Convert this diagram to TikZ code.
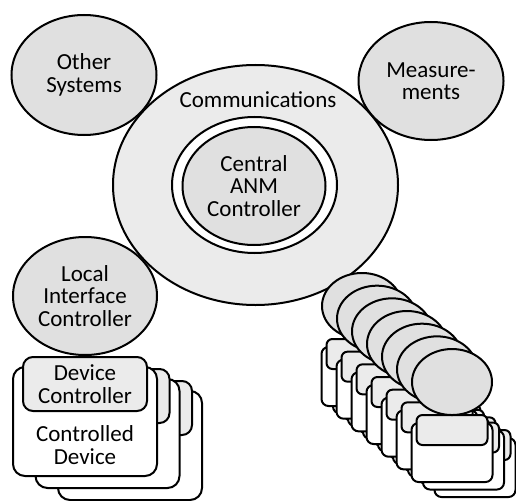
\documentclass[tikz,border=0pt]{standalone}
\usepackage{fontspec}
\setmainfont{Carlito}
\usetikzlibrary{shapes.geometric}
\definecolor{bubblegray}{gray}{0.88}
\definecolor{commgray}{gray}{0.92}
\definecolor{dcgray}{gray}{0.92}
\begin{document}
\begin{tikzpicture}[x=1pt,y=-1pt,
  outline/.style={draw=black, line width=2pt},
  txt/.style={inner sep=0pt, align=center, font=\fontsize{23}{22.5}\selectfont},
  bubble/.style={outline, ellipse, fill=bubblegray, inner sep=0pt, txt},
  bigbox/.style={outline, rectangle, rounded corners=12pt, fill=white, minimum width=144pt, minimum height=109pt, inner sep=0pt},
  bigdc/.style={outline, rectangle, rounded corners=10pt, fill=dcgray, minimum width=124pt, minimum height=54pt, inner sep=0pt},
  smallbox/.style={outline, rectangle, rounded corners=7pt, fill=white, minimum width=81pt, minimum height=59pt, inner sep=0pt},
  smalldc/.style={outline, rectangle, rounded corners=6pt, fill=dcgray, minimum width=71pt, minimum height=30pt, inner sep=0pt},
  smallbubble/.style={outline, ellipse, fill=bubblegray, inner sep=0pt, minimum width=80pt, minimum height=66pt}
]
\useasboundingbox (0,0) rectangle (516,500);

% communications
\node[outline, ellipse, fill=commgray, minimum width=285pt, minimum height=240pt] (comm) at (255.5,185) {};
\node[txt] (commlabel) at (258,100) {Communications};

% central controller
\node[outline, ellipse, fill=white, minimum width=165pt, minimum height=136pt] (ring) at (254.5,185) {};
\node[bubble, minimum width=143pt, minimum height=118pt] (central) at (254,186) {Central\\ANM\\Controller};

% other bubbles
\node[bubble, minimum width=145pt, minimum height=120pt] (other) at (84,75) {Other\\Systems};
\node[bubble, minimum width=145pt, minimum height=118pt] (meas) at (431,81) {Measure-\\ments};

% right stack
\foreach \k in {0,...,6}{
  \pgfmathsetmacro{\cx}{362+15*\k}
  \pgfmathsetmacro{\cy}{306+12.67*\k}
  \foreach \j/\dx/\dy in {3/23/15,2/11.5/7.5,1/0/0}{
    \node[smallbox] (rbox\k-\j) at (\cx+\dx,\cy+70.5+\dy) {};
    \node[smalldc] (rdc\k-\j) at (\cx+\dx,\cy+48+\dy) {};
  }
  \node[smallbubble] (rlic\k) at (\cx,\cy) {};
}

% left stack
\foreach \j/\dx/\dy in {3/45/24,2/22.5/12,1/0/0}{
  \node[bigbox] (lbox\j) at (85+\dx,421.5+\dy) {};
  \node[bigdc] (ldc\j) at (85+\dx,384+\dy) {};
}
\node[txt] (ldctext) at (ldc1) {Device\\Controller};
\node[txt] (lboxtext) at (85,445) {Controlled\\Device};

\node[bubble, minimum width=144pt, minimum height=118pt] (lic) at (85,296) {Local\\Interface\\Controller};
\end{tikzpicture}
\end{document}
